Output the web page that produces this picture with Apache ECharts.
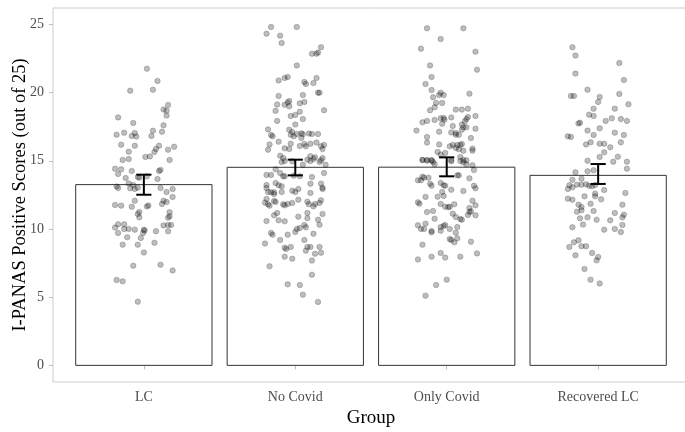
<!DOCTYPE html>
<html>
<head>
<meta charset="utf-8">
<script src="https://cdn.jsdelivr.net/npm/echarts@6/dist/echarts.min.js"></script>
<style>html,body{margin:0;padding:0;background:#fff;}#c{width:685px;height:432px;}</style>
</head>
<body>
<div id="c"></div>
<script>
const categories = ['LC', 'No Covid', 'Only Covid', 'Recovered LC'];
const yTicks = [0, 5, 10, 15, 20, 25];
const means = [13.25, 14.52, 14.53, 13.93];
const errLow = [12.51, 13.93, 13.86, 13.30];
const errHigh = [13.98, 15.08, 15.25, 14.76];

const lcScores = [21.75,20.85,20.14,20.21,19.09,18.75,18.67,18.31,18.18,17.77,17.6,16.91,17.06,16.82,17.04,16.77,17.2,16.82,17.13,16.18,16.1,16.1,15.87,15.65,15.81,16.03,15.67,15.06,15.13,15.28,15.32,15.06,14.42,14.37,14.03,14.25,14.33,14.25,13.74,13.81,13.76,13.86,13.66,13.34,13.22,12.98,12.93,13.03,13.12,13.0,13.0,12.71,12.93,11.76,11.71,12.07,11.72,11.65,12.07,11.98,11.83,12.35,11.63,11.25,11.1,10.85,11.23,10.93,10.83,10.34,10.34,10.1,10.0,10.0,9.95,9.71,9.95,9.88,9.71,9.83,10.26,10.29,10.29,9.83,8.85,8.85,9.34,8.99,9.39,8.28,7.31,7.38,6.96,6.26,6.16,4.67];
const lcJitter = [0.02,0.09,-0.09,0.06,0.16,0.13,0.15,0.15,-0.17,-0.07,0.13,-0.18,-0.13,-0.08,-0.06,-0.05,0.06,0.05,0.12,-0.15,-0.06,0.1,0.08,0.07,0.16,0.2,-0.1,-0.14,-0.1,0.01,0.04,0.17,-0.19,-0.15,-0.17,-0.08,0.11,0.1,-0.12,-0.04,-0.03,0.02,0.09,-0.1,-0.07,-0.09,-0.06,-0.04,-0.18,-0.17,0.11,0.15,0.19,-0.19,-0.15,-0.06,0.03,0.02,0.13,0.15,0.12,0.19,-0.08,-0.03,-0.04,-0.03,0.17,0.17,0.16,-0.17,-0.13,-0.19,-0.1,-0.13,-0.06,-0.17,0.0,0.005,-0.005,0.08,0.13,0.18,0.16,0.16,-0.14,-0.04,-0.02,0.07,-0.11,0.0,-0.07,0.11,0.19,-0.18,-0.14,-0.04];

const noCovidScores = [24.81,24.81,24.32,24.17,23.63,23.32,22.85,22.85,22.93,21.99,20.89,21.07,21.14,21.07,20.7,20.78,20.63,19.99,19.99,19.75,19.82,19.13,19.11,19.28,19.38,18.99,19.21,19.31,18.67,18.7,18.6,18.36,18.28,18.06,17.92,17.65,17.3,16.89,16.79,17.28,16.91,17.11,16.79,16.96,17.01,16.94,16.99,16.96,16.96,16.4,16.67,16.23,16.06,16.25,16.33,16.06,16.16,16.2,15.81,15.91,15.86,16.25,16.08,15.86,15.37,15.2,15.33,15.25,15.03,15.2,15.08,15.13,
  14.91,14.98,14.96,14.71,14.98,14.91,14.71,14.37,14.1,13.86,13.96,13.96,13.86,13.91,13.86,13.81,14.1,13.37,13.2,13.13,13.32,13.32,13.0,13.22,12.71,12.69,12.69,12.56,12.71,12.81,12.71,12.93,12.64,13.03,12.93,12.2,11.93,11.81,11.71,12.05,11.98,11.81,11.73,11.83,11.91,12.15,12.0,11.81,11.66,11.83,11.91,12.1,11.0,11.17,10.58,10.63,10.56,10.9,11.17,10.78,10.68,11.1,10.31,10.29,10.12,9.71,9.58,9.19,9.58,9.78,10.0,10.07,9.65,8.93,8.63,8.53,8.68,9.19,8.41,8.68,8.68,8.19,8.68,8.26,7.97,7.82,7.68,7.26,6.65,5.94,5.89,5.18,4.65];
const noCovidJitter = [-0.16,0.01,-0.19,-0.1,-0.09,0.17,0.11,0.14,0.15,0.01,-0.11,-0.07,-0.05,0.14,0.12,0.06,0.07,0.15,0.16,-0.11,0.05,-0.12,-0.07,-0.05,-0.04,-0.04,0.03,0.06,-0.13,0.19,0.03,0.0,-0.03,0.05,-0.12,0.0,-0.18,-0.16,-0.15,-0.04,-0.03,-0.02,-0.01,0.01,0.04,0.05,0.09,0.11,0.15,-0.11,0.04,0.06,0.07,0.1,0.14,0.17,0.19,-0.17,-0.18,-0.07,-0.04,-0.03,0.03,0.18,-0.1,-0.08,0.1,0.13,0.17,0.18,0.08,0.12,
  -0.09,-0.07,-0.02,0.05,0.1,0.16,0.2,-0.13,-0.1,-0.08,-0.19,-0.16,-0.07,-0.01,0.03,0.11,0.19,-0.13,-0.11,-0.09,0.1,0.17,-0.19,-0.19,-0.18,-0.16,-0.14,-0.14,-0.09,-0.02,0.0,0.02,0.1,0.18,0.18,-0.19,-0.2,-0.18,-0.17,-0.14,-0.13,-0.08,-0.07,-0.05,-0.02,0.02,0.08,0.09,0.12,0.13,0.16,0.17,-0.14,-0.12,-0.19,-0.11,-0.07,0.02,0.08,0.08,0.15,0.18,0.16,0.06,0.07,-0.16,-0.15,-0.1,-0.05,0.0,0.01,0.03,0.12,-0.2,-0.07,-0.06,-0.03,0.06,0.07,0.08,0.1,0.13,0.16,0.17,-0.07,-0.02,0.11,-0.17,0.11,-0.05,0.03,0.05,0.15];

const onlyCovidScores = [24.71,24.71,23.93,23.22,23.0,21.99,21.68,21.14,20.63,20.19,19.92,19.65,19.82,19.99,19.82,19.24,19.24,18.92,18.7,18.75,18.75,18.82,18.21,18.06,18.28,17.82,17.92,17.99,18.11,18.14,18.01,18.18,17.89,17.65,17.72,17.55,17.35,17.21,17.13,17.08,17.04,16.91,16.91,17.28,17.45,17.45,16.74,16.33,16.2,16.67,16.06,16.16,16.16,16.16,16.23,15.74,15.89,15.74,15.94,15.84,15.65,15.57,15.45,15.06,15.06,15.06,15.06,15.28,15.06,15.03,
  15.06,15.01,15.01,14.74,14.91,14.96,14.98,14.89,14.74,14.67,14.32,13.83,13.57,13.57,13.76,13.76,13.32,13.17,13.37,13.2,13.17,13.93,13.93,13.71,13.17,12.98,12.88,12.79,12.35,12.71,12.37,12.42,11.95,11.85,11.83,11.63,11.59,11.63,11.81,12.07,11.73,11.54,11.24,11.29,11.24,11.32,10.75,11.12,10.88,10.73,10.68,11.03,11.0,10.27,10.0,10.0,10.39,9.85,9.75,9.87,10.14,10.22,10.29,10.0,9.73,10.14,9.26,9.19,9.02,9.31,8.85,9.07,7.77,7.97,8.24,7.9,7.97,8.21,6.28,5.89,5.11];
const onlyCovidJitter = [-0.13,0.11,-0.04,-0.17,0.19,-0.11,0.2,-0.1,-0.14,-0.1,0.15,-0.09,-0.05,-0.04,-0.02,-0.07,-0.03,-0.08,-0.11,0.06,0.1,0.14,0.14,0.13,0.19,-0.16,-0.13,-0.08,-0.04,-0.02,-0.015,0.03,0.12,0.1,-0.03,0.04,0.19,-0.2,-0.05,0.03,0.06,0.06,0.08,0.1,0.11,0.13,-0.13,-0.13,-0.05,0.16,0.02,0.04,0.07,0.09,0.1,0.11,0.17,0.17,0.06,0.08,-0.06,-0.01,-0.04,-0.16,-0.13,-0.1,0.03,0.09,0.11,0.13,
  -0.16,-0.13,-0.1,-0.08,-0.09,0.03,0.09,0.11,0.13,0.17,0.18,-0.16,-0.19,-0.17,-0.15,-0.12,-0.11,-0.1,-0.04,-0.02,-0.01,0.07,0.08,0.15,0.18,0.19,0.03,0.11,-0.14,-0.03,-0.06,-0.02,-0.19,-0.18,-0.04,-0.01,0.01,0.02,0.05,0.17,0.19,0.15,0.15,0.16,-0.13,-0.09,-0.08,0.04,0.06,0.09,0.1,0.14,0.19,-0.19,-0.17,-0.15,-0.14,-0.1,-0.1,-0.04,-0.04,-0.02,-0.01,0.02,0.06,0.07,0.02,0.03,0.05,0.07,-0.16,0.16,-0.19,-0.1,-0.04,-0.01,0.09,0.2,0.0,-0.07,-0.14];

const recoveredScores = [23.32,22.71,22.17,21.39,20.92,20.21,19.75,19.75,19.9,19.68,19.31,19.14,18.82,18.82,18.38,18.28,17.92,18.11,18.06,17.92,17.74,17.79,17.21,17.38,16.89,16.79,16.75,17.06,16.89,16.2,16.35,16.25,16.25,15.99,16.35,15.62,15.28,15.3,14.93,14.93,14.42,15.01,14.15,14.23,14.3,13.61,13.69,13.25,13.2,12.93,13.05,13.25,13.27,13.17,13.13,13.22,12.86,12.22,12.15,12.39,12.59,12.39,12.17,12.64,11.85,11.78,11.61,11.78,11.27,11.37,11.32,11.17,11.05,10.85,10.63,10.78,10.85,10.68,10.12,10.32,9.95,10.0,9.78,10.29,8.68,9.02,9.17,8.73,8.73,8.07,8.24,7.7,7.95,7.07,6.28,6.01];
const recoveredJitter = [-0.17,-0.15,0.14,-0.15,0.17,-0.07,-0.18,-0.16,0.14,0.01,0.0,0.2,-0.03,0.11,-0.06,-0.03,0.05,0.09,0.15,0.19,-0.13,-0.12,-0.07,0.01,-0.03,-0.2,-0.18,0.11,0.17,-0.08,-0.05,0.01,0.04,0.08,0.15,0.04,0.01,0.13,0.1,0.19,0.19,-0.07,-0.15,-0.07,-0.03,-0.17,-0.11,-0.14,-0.19,-0.2,-0.17,-0.11,-0.08,-0.06,-0.04,-0.02,0.04,-0.2,-0.17,-0.09,-0.02,-0.02,0.02,0.18,-0.05,-0.13,-0.11,0.16,-0.14,-0.11,-0.03,0.11,0.17,0.16,0.08,-0.12,-0.07,-0.01,-0.17,-0.1,0.04,0.11,0.15,0.16,-0.19,-0.16,-0.13,-0.11,-0.08,-0.15,-0.04,-0.01,0.0,-0.09,-0.05,0.01];

const groupScores = [lcScores, noCovidScores, onlyCovidScores, recoveredScores];
const groupJitter = [lcJitter, noCovidJitter, onlyCovidJitter, recoveredJitter];

const pointData = [];
groupScores.forEach(function (arr, g) {
  arr.forEach(function (v, i) { pointData.push([g + 1 + groupJitter[g][i], v]); });
});
const barData = means.map(function (m, i) { return [i + 1, m]; });
const errData = errLow.map(function (lo, i) { return [i + 1, lo, errHigh[i]]; });

const FONT = 'Liberation Serif';
const chart = echarts.init(document.getElementById('c'), null, { renderer: 'canvas' });
chart.setOption({
  animation: false,
  backgroundColor: '#ffffff',
  grid: { left: 53, top: 8, width: 636, height: 374, outerBoundsMode: 'none', containLabel: false,
    show: true, borderColor: '#cccccc', borderWidth: 1, backgroundColor: 'transparent' },
  xAxis: {
    type: 'value', min: 0.4, max: 4.6,
    axisLine: { show: false },
    splitLine: { show: false },
    axisTick: { show: true, length: 4, lineStyle: { color: '#bdbdbd' }, customValues: [1, 2, 3, 4] },
    axisLabel: {
      customValues: [1, 2, 3, 4], margin: 8,
      fontFamily: FONT, fontSize: 14, color: '#4d4d4d',
      formatter: function (v) { return categories[Math.round(v) - 1] || ''; }
    },
    name: 'Group', nameLocation: 'middle', nameGap: 27, nameMoveOverlap: false,
    nameTextStyle: { fontFamily: FONT, fontSize: 19, color: '#000' }
  },
  yAxis: {
    type: 'value', min: -1.22, max: 26.2,
    axisLine: { show: false },
    splitLine: { show: false },
    axisTick: { show: true, length: 4, lineStyle: { color: '#bdbdbd' }, customValues: yTicks },
    axisLabel: { customValues: yTicks, margin: 9, fontFamily: FONT, fontSize: 14, color: '#4d4d4d' },
    name: 'I-PANAS Positive Scores (out of 25)', nameLocation: 'middle', nameGap: 23, nameMoveOverlap: false,
    nameTextStyle: { fontFamily: FONT, fontSize: 18.5, color: '#000' }
  },
  series: [
    {
      type: 'custom', z: 1, data: barData,
      renderItem: function (params, api) {
        const x = api.value(0), m = api.value(1);
        const p1 = api.coord([x - 0.45, m]);
        const p2 = api.coord([x + 0.45, 0]);
        return { type: 'rect', shape: { x: p1[0], y: p1[1], width: p2[0] - p1[0], height: p2[1] - p1[1] },
          style: { fill: '#ffffff', stroke: '#333333', lineWidth: 1 } };
      }
    },
    {
      type: 'scatter', z: 2, data: pointData, symbolSize: 5.5,
      itemStyle: { color: 'rgba(0,0,0,0.32)', borderColor: 'rgba(0,0,0,0.3)', borderWidth: 0.8 }
    },
    {
      type: 'custom', z: 3, data: errData,
      renderItem: function (params, api) {
        const x = api.value(0), lo = api.value(1), hi = api.value(2);
        const a = api.coord([x, lo]), b = api.coord([x, hi]);
        const l1 = api.coord([x - 0.05, lo]), r1 = api.coord([x + 0.05, lo]);
        const l2 = api.coord([x - 0.05, hi]), r2 = api.coord([x + 0.05, hi]);
        const st = { stroke: '#000', lineWidth: 2 };
        return { type: 'group', children: [
          { type: 'line', shape: { x1: a[0], y1: a[1], x2: b[0], y2: b[1] }, style: st },
          { type: 'line', shape: { x1: l1[0], y1: l1[1], x2: r1[0], y2: r1[1] }, style: st },
          { type: 'line', shape: { x1: l2[0], y1: l2[1], x2: r2[0], y2: r2[1] }, style: st }
        ] };
      }
    }
  ]
});
</script>
</body>
</html>
